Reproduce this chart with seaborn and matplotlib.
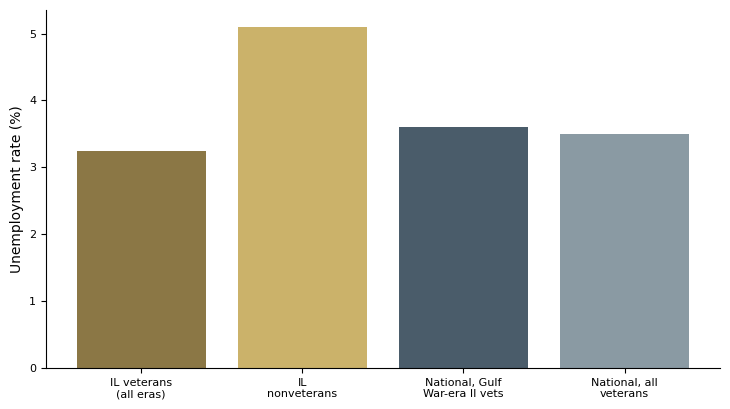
import matplotlib
matplotlib.use("Agg")
import matplotlib.pyplot as plt
import seaborn as sns
import pandas as pd

# Categorieen en waarden
groups = ["IL veterans\n(all eras)", "IL\nnonveterans",
          "National, Gulf\nWar-era II vets", "National, all\nveterans"]
rates = [3.24, 5.1, 3.6, 3.5]
colors = ["#8B7745", "#CBB26A", "#4A5C6A", "#8A9AA3"]

df = pd.DataFrame({"Group": groups, "Rate": rates})

fig, ax = plt.subplots(figsize=(7.3, 4.09), dpi=100)
sns.barplot(x="Group", y="Rate", hue="Group", data=df, palette=colors,
            legend=False, saturation=1, width=0.8, linewidth=0, ax=ax)

# Marges zoals bij een gewone matplotlib-staafgrafiek
ax.set_xlim(-0.59, len(groups) - 1 + 0.59)
ax.set_ylim(0, max(rates) * 1.05)

ax.set_xlabel("")
ax.set_ylabel("Unemployment rate (%)", fontsize=10)
ax.tick_params(axis="both", labelsize=8)
sns.despine(ax=ax)

fig.subplots_adjust(left=0.063, right=0.986, bottom=0.1, top=0.976)
fig.savefig("out.png", dpi=100)
